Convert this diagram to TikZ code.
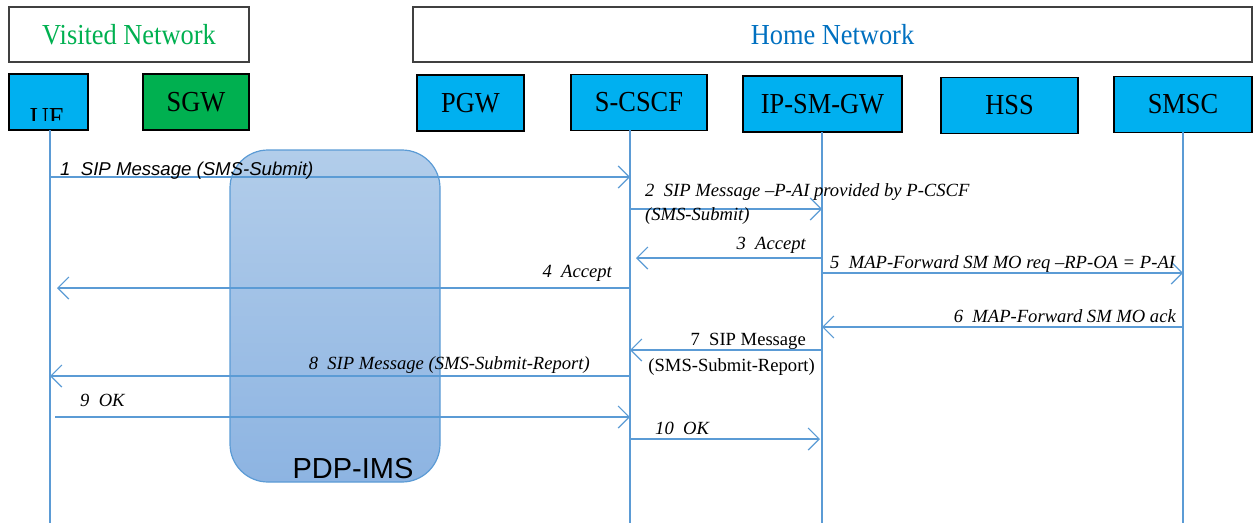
\documentclass[tikz,border=0pt]{standalone}
\usepackage{fontspec}
\setmainfont{Liberation Serif}
\newfontfamily\boxfont{Liberation Serif}[FakeStretch=0.91]
\newfontfamily\arialfont{Liberation Sans}
\usetikzlibrary{arrows.meta}

\definecolor{boxcyan}{RGB}{0,176,240}
\definecolor{boxgreen}{RGB}{0,176,80}
\definecolor{homeblue}{RGB}{0,112,192}
\definecolor{linkblue}{RGB}{91,155,213}
\definecolor{pdptop}{RGB}{178,205,234}
\definecolor{pdpbot}{RGB}{141,180,226}

\begin{document}
\begin{tikzpicture}[x=1pt, y=-1pt,
  netbox/.style={draw=black!75, line width=1.4pt, minimum height=55pt, inner sep=0pt,
    font=\boxfont\fontsize{29}{30}\selectfont},
  entity/.style={draw, line width=1.4pt, fill=boxcyan, minimum height=56pt, inner sep=0pt,
    font=\boxfont\fontsize{29}{30}\selectfont},
  lifeline/.style={draw=linkblue, line width=1.2pt},
  msg/.style={draw=linkblue, line width=1.5pt,
    -{Straight Barb[length=11pt,width=22pt,line width=1.2pt]}},
  lbl/.style={font=\fontsize{18.6}{20}\selectfont\itshape, inner sep=0pt}
]
\useasboundingbox (0,0) rectangle (1259,523);

% Network headers
\node[netbox, minimum width=240pt, text=boxgreen] (visited) at (129,34.5) {Visited Network};
\node[netbox, minimum width=839pt, text=homeblue] (home) at (832.5,34.5) {Home Network};

% Entities
\node[entity, minimum width=79pt] (ue) at (48.5,102) {};
\begin{scope}
  \clip (ue.north west) rectangle (ue.east |- 0,120);
  \node[font=\boxfont\fontsize{29}{30}\selectfont, anchor=base] (uetext) at (47.5,127) {UE};
\end{scope}
\node[entity, minimum width=106pt, fill=boxgreen] (sgw) at (196,102) {SGW};
\node[entity, minimum width=107pt] (pgw) at (470.5,103) {PGW};
\node[entity, minimum width=136pt] (scscf) at (639,102.5) {S-CSCF};
\node[entity, minimum width=159pt] (ipsmgw) at (822.5,104) {IP-SM-GW};
\node[entity, minimum width=137pt] (hss) at (1009.5,105.5) {HSS};
\node[entity, minimum width=138pt] (smsc) at (1183,104.5) {SMSC};

% Lifelines
\coordinate (ueL) at (50,130);
\coordinate (scscfL) at (630,130);
\coordinate (ipsmgwL) at (822,132);
\coordinate (smscL) at (1183,132);
\draw[lifeline] (ueL) -- (ueL |- 0,523);
\draw[lifeline] (scscfL) -- (scscfL |- 0,523);
\draw[lifeline] (ipsmgwL) -- (ipsmgwL |- 0,523);
\draw[lifeline] (smscL) -- (smscL |- 0,523);

% PDP-IMS bearer
\node[draw=linkblue, line width=1.2pt, top color=pdptop, bottom color=pdpbot,
  rounded corners=38pt, minimum width=210pt, minimum height=332pt] (pdp) at (335,316) {};
\node[font=\arialfont\fontsize{29}{30}\selectfont, anchor=base, inner sep=0pt] (pdptext) at (353,478) {PDP-IMS};

% Messages
\draw[msg] (ueL |- 0,177) -- (scscfL |- 0,177);
\node[lbl, anchor=base west] (m1) at (60,175) {\arialfont 1\ \ SIP Message (SMS-Submit)};

\draw[msg] (scscfL |- 0,209) -- (ipsmgwL |- 0,209);
\node[lbl, anchor=base west] (m2a) at (645,196) {2\ \ SIP Message –P-AI provided by P-CSCF};
\node[lbl, anchor=base west] (m2b) at (645,220) {(SMS-Submit)};

\draw[msg, shorten >=6pt] (ipsmgwL |- 0,258) -- (scscfL |- 0,258);
\node[lbl, anchor=base east] (m3) at (806,249) {3\ \ Accept};

\draw[msg, shorten >=7pt] (scscfL |- 0,288) -- (ueL |- 0,288);
\node[lbl, anchor=base east] (m4) at (612,277) {4\ \ Accept};

\draw[msg] (ipsmgwL |- 0,273) -- (smscL |- 0,273);
\node[lbl, anchor=base west] (m5) at (830,268) {5\ \ MAP-Forward SM MO req –RP-OA = P-AI};

\draw[msg] (smscL |- 0,327) -- (ipsmgwL |- 0,327);
\node[lbl, anchor=base east] (m6) at (1176,322) {6\ \ MAP-Forward SM MO ack};

\draw[msg] (ipsmgwL |- 0,350) -- (scscfL |- 0,350);
\node[lbl, anchor=base east] (m7a) at (806,345) {\upshape 7\ \ SIP Message};
\node[lbl, anchor=base east] (m7b) at (815,371) {\upshape (SMS-Submit-Report)};

\draw[msg] (scscfL |- 0,376) -- (ueL |- 0,376);
\node[lbl, anchor=base east] (m8) at (590,369) {8\ \ SIP Message (SMS-Submit-Report)};

\draw[msg, shorten <=5pt] (ueL |- 0,417) -- (scscfL |- 0,417);
\node[lbl, anchor=base west] (m9) at (80,406) {9\ \ OK};

\draw[msg, shorten >=2pt] (scscfL |- 0,439) -- (ipsmgwL |- 0,439);
\node[lbl, anchor=base west] (m10) at (655,434) {10\ \ OK};
\end{tikzpicture}
\end{document}
